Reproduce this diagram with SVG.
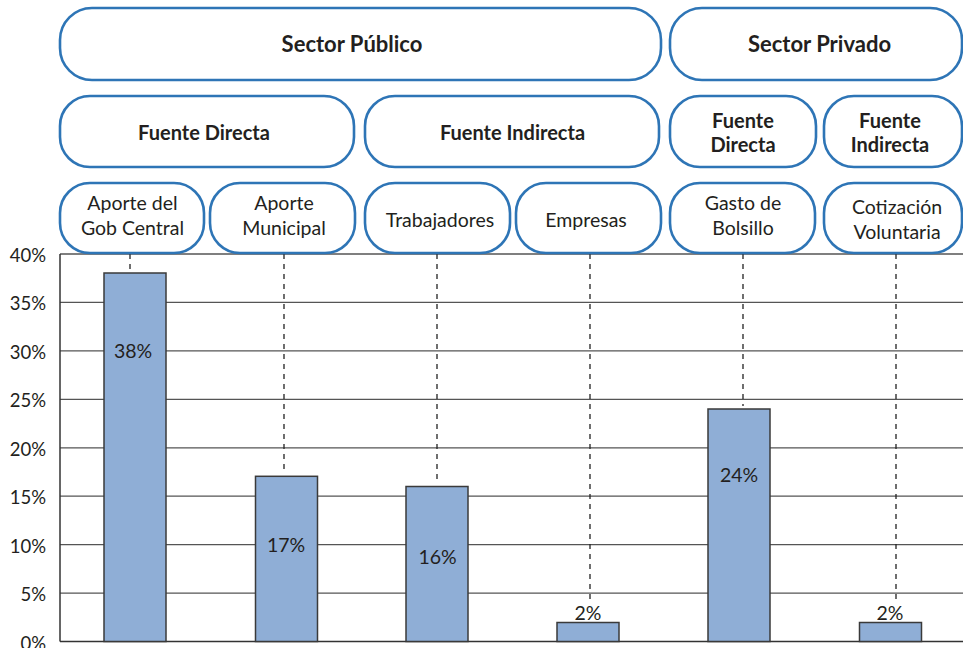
<svg xmlns="http://www.w3.org/2000/svg" width="963" height="648" viewBox="0 0 963 648">
<style>
.box{fill:#fff;stroke:#2E75B6;stroke-width:2.6}
.t{font-family:Lato,"Open Sans","Liberation Sans",sans-serif;fill:#231F20;text-anchor:middle}
.b{font-weight:bold;font-size:20px}
.b1{font-weight:bold;font-size:22px}
.r{font-size:19.5px}
.ax{font-family:Lato,"Open Sans","Liberation Sans",sans-serif;fill:#231F20;font-size:18.5px;text-anchor:end}
.grid{stroke:#555;stroke-width:1.2}
.bar{fill:#8FAED6;stroke:#3A3A3A;stroke-width:1.5}
.dash{stroke:#222;stroke-width:1.3;stroke-dasharray:5 5;fill:none}
</style>
<rect width="963" height="648" fill="#fff"/>
<g id="chart">
<g class="grid">
<line x1="60" y1="302.4" x2="963" y2="302.4"/>
<line x1="60" y1="350.9" x2="963" y2="350.9"/>
<line x1="60" y1="399.3" x2="963" y2="399.3"/>
<line x1="60" y1="447.8" x2="963" y2="447.8"/>
<line x1="60" y1="496.2" x2="963" y2="496.2"/>
<line x1="60" y1="544.6" x2="963" y2="544.6"/>
<line x1="60" y1="593.1" x2="963" y2="593.1"/>
</g>
<line x1="60" y1="254" x2="963" y2="254" stroke="#555" stroke-width="1.5"/>
<line x1="60" y1="254" x2="60" y2="641.5" stroke="#333" stroke-width="1.5"/>
<line x1="60" y1="641.5" x2="963" y2="641.5" stroke="#333" stroke-width="1.5"/>
<g class="ax">
<text x="46" y="262">40%</text>
<text x="46" y="310.4">35%</text>
<text x="46" y="358.9">30%</text>
<text x="46" y="407.3">25%</text>
<text x="46" y="455.8">20%</text>
<text x="46" y="504.2">15%</text>
<text x="46" y="552.6">10%</text>
<text x="46" y="601.1">5%</text>
<text x="46" y="649.5">0%</text>
</g>
</g>
<g id="connectors">
<line class="dash" x1="130" y1="254" x2="130" y2="271"/>
<line class="dash" x1="284" y1="254" x2="284" y2="473"/>
<line class="dash" x1="437" y1="254" x2="437" y2="483"/>
<line class="dash" x1="590" y1="254" x2="590" y2="600"/>
<line class="dash" x1="743" y1="254" x2="743" y2="406"/>
<line class="dash" x1="896" y1="254" x2="896" y2="603"/>
</g>
<g id="bars">
<g id="bar-gob"><rect class="bar" x="104" y="273" width="62" height="368.5"/><text class="t r" x="133" y="358">38%</text></g>
<g id="bar-mun"><rect class="bar" x="255.5" y="476.3" width="62" height="165.2"/><text class="t r" x="286" y="552">17%</text></g>
<g id="bar-trab"><rect class="bar" x="406" y="486.5" width="62" height="155"/><text class="t r" x="437.5" y="564">16%</text></g>
<g id="bar-emp"><rect class="bar" x="557" y="622.5" width="62" height="19"/><text class="t r" x="588" y="620">2%</text></g>
<g id="bar-bol"><rect class="bar" x="708" y="409" width="62" height="232.5"/><text class="t r" x="739" y="482">24%</text></g>
<g id="bar-cot"><rect class="bar" x="859.5" y="622.5" width="62" height="19"/><text class="t r" x="890" y="620">2%</text></g>
</g>
<g id="sector-publico"><rect class="box" x="60" y="8" width="601" height="72" rx="32"/><text class="t b1" x="352" y="52">Sector Público</text></g>
<g id="sector-privado"><rect class="box" x="670" y="8" width="292" height="72" rx="32"/><text class="t b1" x="819.5" y="52">Sector Privado</text></g>
<g id="pub-directa"><rect class="box" x="60" y="96" width="294" height="71" rx="30"/><text class="t b" x="204" y="140">Fuente Directa</text></g>
<g id="pub-indirecta"><rect class="box" x="365" y="96" width="294" height="71" rx="30"/><text class="t b" x="512.5" y="140">Fuente Indirecta</text></g>
<g id="priv-directa"><rect class="box" x="670" y="96" width="146" height="71" rx="30"/><text class="t b" x="743" y="127.5">Fuente</text><text class="t b" x="743" y="151.5">Directa</text></g>
<g id="priv-indirecta"><rect class="box" x="824" y="96" width="138" height="71" rx="30"/><text class="t b" x="890" y="127.5">Fuente</text><text class="t b" x="890" y="151.5">Indirecta</text></g>
<g id="gob-central"><rect class="box" x="60" y="183" width="144" height="70" rx="30"/><text class="t r" x="132.5" y="210">Aporte del</text><text class="t r" x="132.5" y="235">Gob Central</text></g>
<g id="municipal"><rect class="box" x="210" y="183" width="145" height="70" rx="30"/><text class="t r" x="284" y="210">Aporte</text><text class="t r" x="284" y="235">Municipal</text></g>
<g id="trabajadores"><rect class="box" x="365" y="183" width="145" height="70" rx="30"/><text class="t r" x="440" y="226.5">Trabajadores</text></g>
<g id="empresas"><rect class="box" x="516" y="183" width="145" height="70" rx="30"/><text class="t r" x="586" y="226.5">Empresas</text></g>
<g id="gasto-bolsillo"><rect class="box" x="670" y="183" width="145" height="70" rx="30"/><text class="t r" x="743" y="210">Gasto de</text><text class="t r" x="743" y="235">Bolsillo</text></g>
<g id="cotizacion"><rect class="box" x="824" y="183" width="138" height="70" rx="30"/><text class="t r" x="897" y="214">Cotización</text><text class="t r" x="897" y="239">Voluntaria</text></g>
</svg>
